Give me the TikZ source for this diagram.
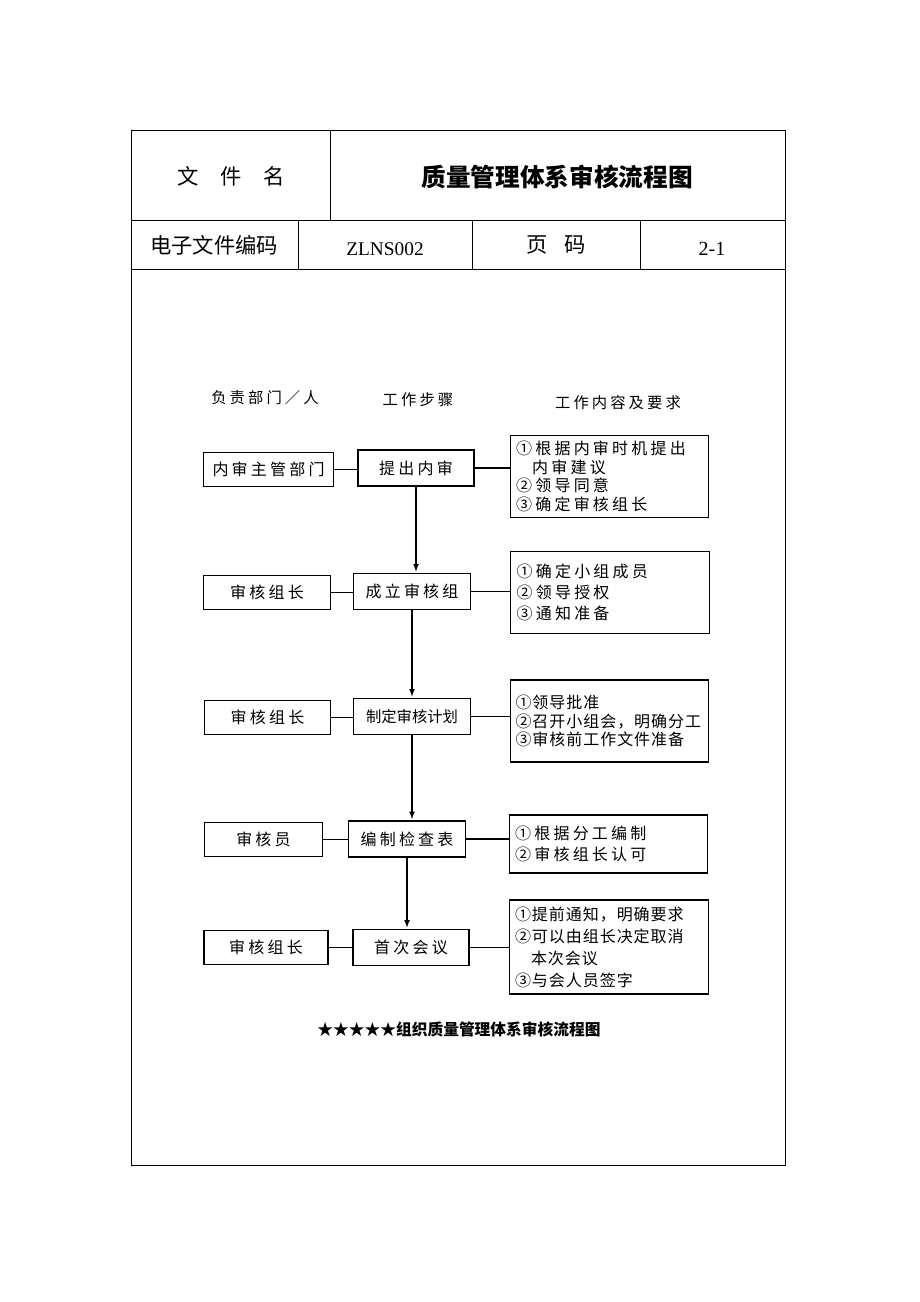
\documentclass[tikz,border=0pt]{standalone}
\usepackage{fontspec}
\setmainfont{Liberation Serif}
\newfontfamily\cjk{Noto Sans CJK SC}
\newfontfamily\cjkwide[LetterSpace=20]{Noto Sans CJK SC}
\newfontfamily\cjkmid[LetterSpace=6]{Noto Sans CJK SC}
\usetikzlibrary{arrows, positioning}

\begin{document}
\begin{tikzpicture}[x=0.75pt, y=-0.75pt,
    resp/.style={rectangle, draw, line width=0.9pt, minimum width=95pt, minimum height=26pt, inner sep=0pt, font=\cjkwide\fontsize{12}{14}\selectfont},
    stepbox/.style={rectangle, draw, line width=0.9pt, minimum width=88pt, minimum height=27pt, inner sep=0pt, font=\cjkwide\fontsize{12}{14}\selectfont},
    req/.style={rectangle, draw, line width=0.9pt, text width=140pt, inner xsep=4.5pt, inner ysep=0pt, align=left, font=\cjkwide\fontsize{12}{14}\selectfont},
    colhead/.style={font=\cjkwide\fontsize{11.5}{13}\selectfont},
    headcell/.style={font=\cjk\fontsize{16}{18}\selectfont},
    link/.style={line width=0.9pt},
    flow/.style={line width=0.9pt, -latex, shorten >=1pt}
]
\useasboundingbox (0,0) rectangle (920,1302);
% Header table
\draw[line width=0.75pt] (131,131) rectangle (785,1165);
\draw[line width=0.75pt] (131,220) -- (785,220) (131,269) -- (785,269);
\draw[line width=0.75pt] (330,131) -- (330,220);
\draw[line width=0.75pt] (298,220) -- (298,269) (472,220) -- (472,269) (640,220) -- (640,269);
\node[headcell] (filename) at (231,176) {文\quad 件\quad 名};
\node[font=\cjk\bfseries\fontsize{18.5}{20}\selectfont] (title) at (557,177) {质量管理体系审核流程图};
\node[headcell] (codelabel) at (214,245) {电子文件编码};
\node[font=\fontsize{14.5}{17}\selectfont] (code) at (385,249) {ZLNS002};
\node[headcell] (pagelabel) at (556,245) {页\hspace{12pt}码};
\node[font=\fontsize{15}{17}\selectfont] (page) at (712,249) {2-1};
% Column headings
\node[colhead] (hresp) at (265,398) {负责部门／人};
\node[colhead] (hstep) at (418,400) {工作步骤};
\node[colhead] (hreq) at (618,403) {工作内容及要求};
% Row 1
\node[resp, minimum width=97pt] (resp1) at (268.5,469.5) {内审主管部门};
\node[stepbox, minimum width=87pt] (step1) at (416,468) {提出内审};
\node[req, minimum height=62pt] (req1) at (609.5,476.5) {①根据内审时机提出\\\phantom{①}内审建议\\②领导同意\\③确定审核组长};
% Row 2
\node[resp] (resp2) at (267,592.5) {审核组长};
\node[stepbox] (step2) at (412,591.5) {成立审核组};
\node[req, minimum height=61pt, font=\cjkwide\fontsize{12}{16}\selectfont] (req2) at (610,592.5) {①确定小组成员\\②领导授权\\③通知准备};
% Row 3
\node[resp] (resp3) at (267.5,717.5) {审核组长};
\node[stepbox, font=\cjk\fontsize{11.5}{13}\selectfont] (step3) at (412,716.5) {制定审核计划};
\node[req, minimum height=61.5pt, inner xsep=4pt, text width=141pt, font=\cjkmid\fontsize{12}{14}\selectfont] (req3) at (609.5,721) {①领导批准\\②召开小组会，明确分工\\③审核前工作文件准备};
% Row 4
\node[resp, minimum width=89pt] (resp4) at (263.5,839.5) {审核员};
\node[stepbox] (step4) at (407,839) {编制检查表};
\node[req, minimum height=43.5pt, font=\cjkwide\fontsize{12}{16}\selectfont] (req4) at (608.5,844) {①根据分工编制\\②审核组长认可};
% Row 5
\node[resp, minimum width=93pt] (resp5) at (266,947.5) {审核组长};
\node[stepbox, minimum width=87pt] (step5) at (411,947.5) {首次会议};
\node[req, minimum height=70.5pt, inner xsep=4pt, text width=141pt, font=\cjkmid\fontsize{12}{16.5}\selectfont] (req5) at (609,947) {①提前通知，明确要求\\②可以由组长决定取消\\\phantom{②}本次会议\\③与会人员签字};
% Connectors
\foreach \i in {1,...,5} {
  \draw[link] (resp\i.east) -- (resp\i.east -| step\i.west);
  \draw[link] (step\i.east) -- (step\i.east -| req\i.west);
}
\draw[flow] (step1.south) -- (step1.south |- step2.north);
\draw[flow] (step2.south) -- (step2.south |- step3.north);
\draw[flow] (step3.south) -- (step3.south |- step4.north);
\draw[flow] (step4.south) -- (step4.south |- step5.north);
% Caption
\node[font=\cjk\bfseries\fontsize{11.8}{14}\selectfont] (caption) at (459,1029) {★★★★★组织质量管理体系审核流程图};
\end{tikzpicture}
\end{document}
